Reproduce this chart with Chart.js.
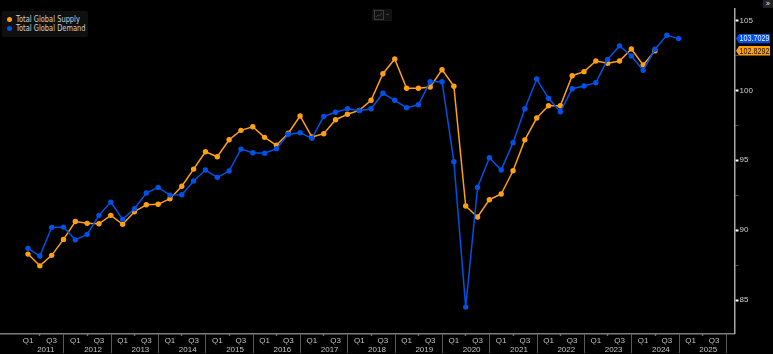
<!DOCTYPE html>
<html>
<head>
<meta charset="utf-8">
<script src="https://cdn.jsdelivr.net/npm/chart.js@4/dist/chart.umd.min.js"></script>
<style>
    html, body { margin: 0; padding: 0; background: #000; }
    #wrap { position: relative; width: 773px; height: 354px; overflow: hidden; }
    canvas { display: block; }
    #legend {
        position: absolute; left: 2px; top: 11px; width: 86px; height: 26px;
        background: #0f0f0f; border-radius: 2px;
        font: 8px "DejaVu Sans", sans-serif; color: #d0d0d0;
    }
    #legend div { position: absolute; left: 13.5px; white-space: nowrap; line-height: 9px; }
    #legend span { display: inline-block; transform: scaleX(0.835); transform-origin: left center; }
    #legend i { position: absolute; left: -8.5px; top: 1.5px; width: 5px; height: 5px; border-radius: 50%; }
    #more {
        position: absolute; right: 0; top: 0; width: 10px; height: 8px; background: #222;
        color: #ddd; font: 8px/7px "DejaVu Sans", sans-serif; text-align: center;
    }
</style>
</head>
<body>
<div id="wrap">
    <canvas id="chart" width="773" height="354"></canvas>
    <div id="legend"></div>
    <div id="more">»</div>
</div>
<script>
    const years = ["2011", "2012", "2013", "2014", "2015", "2016", "2017", "2018", "2019", "2020", "2021", "2022", "2023", "2024", "2025"];
    const quarterLabels = ["Q1", "", "Q3", ""];
    const yTicks = [85, 87.5, 90, 92.5, 95, 97.5, 100, 102.5, 105];

    const seriesNames = ["Total Global Supply", "Total Global Demand"];

    // one value per quarter, starting Q1 2011
    const supply = [
        88.29, 87.45, 88.20, 89.34, 90.62, 90.49, 90.46, 91.06, 90.42, 91.32,
        91.82, 91.85, 92.25, 93.14, 94.37, 95.61, 95.25, 96.47, 97.14, 97.40,
        96.64, 96.07, 96.93, 98.17, 96.66, 96.90, 97.90, 98.29, 98.57, 99.29,
        101.19, 102.25, 100.15, 100.15, 100.24, 101.48, 100.29, 91.73, 90.94, 92.18,
        92.59, 94.25, 96.46, 98.02, 98.90, 98.90, 101.05, 101.34, 102.10, 101.94,
        102.10, 102.96, 101.82, 102.8292
    ];
    const demand = [
        88.70, 88.15, 90.19, 90.22, 89.31, 89.70, 91.06, 92.01, 90.77, 91.53,
        92.66, 93.06, 92.51, 92.53, 93.52, 94.30, 93.78, 94.23, 95.80, 95.54,
        95.50, 95.83, 96.86, 96.97, 96.57, 98.14, 98.43, 98.69, 98.55, 98.69,
        99.79, 99.29, 98.76, 98.97, 100.62, 100.62, 94.90, 84.50, 93.06, 95.18,
        94.30, 96.26, 98.69, 100.81, 99.43, 98.47, 100.12, 100.31, 100.55, 102.22,
        103.18, 102.46, 101.44, 102.94, 103.94, 103.7029
    ];

    const ORANGE = "#ff9f14";
    const BLUE = "#0052e6";
    const AXIS_FONT = { family: "'Liberation Sans', sans-serif", size: 8 };

    document.getElementById("legend").innerHTML = seriesNames.map((name, i) =>
        `<div style="top:${4 + i * 9}px"><i style="background:${i ? BLUE : ORANGE}"></i><span>${name}</span></div>`
    ).join("");

    const toPoints = values => values.map((v, i) => ({ x: i, y: v }));

    // year separators, last value tags and the little toolbar icon
    const extras = {
        id: "extras",
        afterDatasetsDraw(chart) {
            const { ctx, scales } = chart;

            ctx.save();
            ctx.strokeStyle = "#5a5a5a";
            ctx.lineWidth = 1;
            years.forEach((y, i) => {
                const px = Math.round(scales.x.getPixelForValue(i * 4 + 3)) + 0.5;
                ctx.beginPath();
                ctx.moveTo(px, 334);
                ctx.lineTo(px, 353);
                ctx.stroke();
            });

            const tag = (value, bg, fg) => {
                const cy = scales.y.getPixelForValue(value);
                ctx.fillStyle = bg;
                ctx.beginPath();
                ctx.moveTo(736, cy);
                ctx.lineTo(739, cy - 4.7);
                ctx.lineTo(770, cy - 4.7);
                ctx.lineTo(770, cy + 4.7);
                ctx.lineTo(739, cy + 4.7);
                ctx.closePath();
                ctx.fill();
                ctx.fillStyle = fg;
                ctx.font = "8.5px " + AXIS_FONT.family;
                ctx.textAlign = "left";
                ctx.textBaseline = "middle";
                ctx.fillText(value.toFixed(4), 739.5, cy + 0.5, 30);
            };
            tag(demand[demand.length - 1], BLUE, "#e8f0ff");
            tag(supply[supply.length - 1], ORANGE, "#1a1000");

            ctx.fillStyle = "#121212";
            ctx.fillRect(372, 9, 20, 12);
            ctx.strokeStyle = "#3c3c3c";
            ctx.strokeRect(374.5, 10.5, 9, 9);
            ctx.beginPath();
            ctx.moveTo(376, 17);
            ctx.lineTo(378, 15);
            ctx.lineTo(379.5, 16);
            ctx.lineTo(382, 13);
            ctx.stroke();
            ctx.beginPath();
            ctx.moveTo(386, 14.5);
            ctx.lineTo(389, 14.5);
            ctx.stroke();
            ctx.restore();
        }
    };

    new Chart(document.getElementById("chart"), {
        type: "line",
        data: {
            datasets: [
                { label: seriesNames[0], data: toPoints(supply), borderColor: ORANGE, backgroundColor: ORANGE, order: 1 },
                { label: seriesNames[1], data: toPoints(demand), borderColor: BLUE, backgroundColor: BLUE, order: 0 }
            ]
        },
        options: {
            responsive: false,
            animation: false,
            layout: { autoPadding: false, padding: { top: 9 } },
            elements: {
                line: { borderWidth: 1.5, tension: 0 },
                point: { radius: 2.7, borderWidth: 0, hoverRadius: 2.7 }
            },
            plugins: { legend: { display: false }, tooltip: { enabled: false } },
            scales: {
                x: {
                    type: "linear",
                    min: -2.367,
                    max: 59.72,
                    afterBuildTicks(scale) {
                        scale.ticks = years.flatMap((y, yi) =>
                            quarterLabels.map((q, qi) => ({ value: yi * 4 + qi })));
                    },
                    afterFit(scale) { scale.height = 11; },
                    border: { color: "#7c7c7c", width: 1.5 },
                    grid: {
                        drawOnChartArea: false,
                        tickLength: 2,
                        tickWidth: 1.5,
                        tickColor: ctx => (ctx.tick.value % 4 === 1 ? "#cfcfcf" : "transparent")
                    },
                    ticks: {
                        autoSkip: false,
                        maxRotation: 0,
                        padding: 0,
                        color: "#c0c0c0",
                        font: AXIS_FONT,
                        callback: v => quarterLabels[v % 4]
                    }
                },
                years: {
                    type: "linear",
                    position: "bottom",
                    min: -2.367,
                    max: 59.72,
                    afterBuildTicks(scale) {
                        scale.ticks = years.map((y, i) => ({ value: i * 4 + 1.5 }));
                    },
                    afterFit(scale) { scale.height = 9.5; },
                    border: { display: false },
                    grid: { display: false, drawTicks: false },
                    ticks: {
                        autoSkip: false,
                        maxRotation: 0,
                        padding: 0,
                        color: "#c0c0c0",
                        font: AXIS_FONT,
                        callback: v => years[(v - 1.5) / 4]
                    }
                },
                y: {
                    position: "right",
                    min: 82.61,
                    max: 105.82,
                    afterBuildTicks(scale) {
                        scale.ticks = yTicks.map(v => ({ value: v }));
                    },
                    afterFit(scale) { scale.width = 38.5; },
                    border: { color: "#a8a8a8", width: 1.5 },
                    grid: {
                        drawOnChartArea: false,
                        tickLength: 4,
                        tickWidth: ctx => (ctx.tick.value % 5 === 0 ? 2 : 1),
                        tickColor: ctx => (ctx.tick.value % 5 === 0 ? "#ffffff" : "#555555")
                    },
                    ticks: {
                        autoSkip: false,
                        padding: 1,
                        color: "#d0d0d0",
                        font: AXIS_FONT,
                        callback: v => (v % 5 === 0 ? String(v) : "")
                    }
                }
            }
        },
        plugins: [extras]
    });
</script>
</body>
</html>
